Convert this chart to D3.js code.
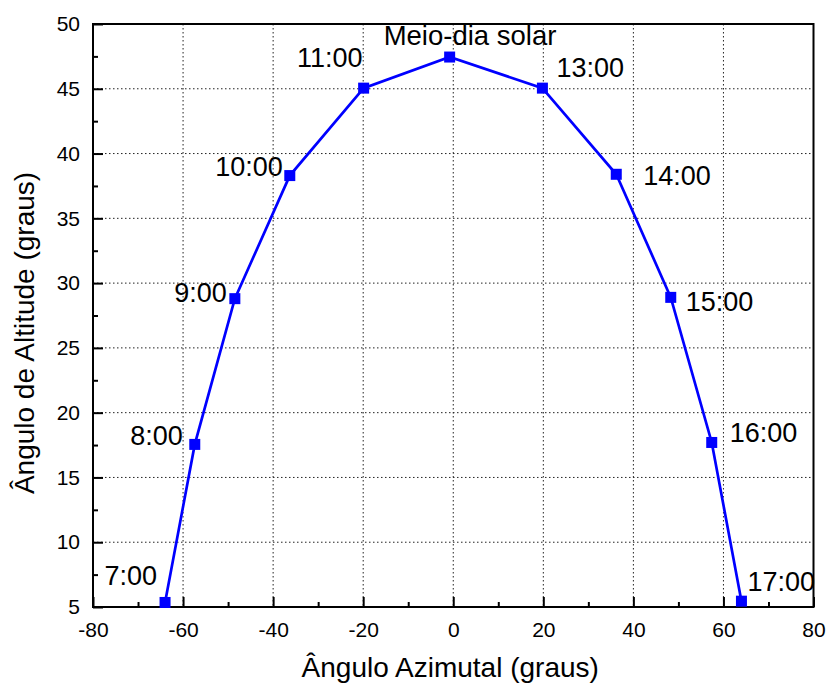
<!DOCTYPE html>
<html>
<head>
<meta charset="utf-8">
<script src="https://cdn.jsdelivr.net/npm/d3@7"></script>
<style>
  body { margin: 0; background: #fff; }
  svg { display: block; font-family: "Liberation Sans", Arial, sans-serif; }
</style>
</head>
<body>
<svg id="chart" width="829" height="685"></svg>
<script>
// data
const hours = ['7:00', '8:00', '9:00', '10:00', '11:00', 'Meio-dia solar', '13:00', '14:00', '15:00', '16:00', '17:00']
const azimuth = [-64.0, -57.4, -48.5, -36.3, -19.9, -0.8, 19.8, 36.2, 48.3, 57.4, 64.0]
const altitude = [5.35, 17.55, 28.8, 38.3, 45.05, 47.45, 45.05, 38.4, 28.9, 17.7, 5.45]

const xTicks = [-80, -60, -40, -20, 0, 20, 40, 60, 80]
const xMinor = [-70, -50, -30, -10, 10, 30, 50, 70]
const yTicks = [5, 10, 15, 20, 25, 30, 35, 40, 45, 50]
const yMinor = [7.5, 12.5, 17.5, 22.5, 27.5, 32.5, 37.5, 42.5, 47.5]

const xTitle = 'Ângulo Azimutal (graus)'
const yTitle = 'Ângulo de Altitude (graus)'

// label placement relative to each marker: [dx, dy, anchor]
const labelPos = [
  [-8, -17, 'end'], [-12, 1, 'end'], [-8, 3, 'end'], [-7, 0, 'end'], [-1, -21, 'end'],
  [-66, -12, 'start'], [14, -11, 'start'], [27, 11, 'start'], [15, 14, 'start'],
  [18, 0, 'start'], [6, -10, 'start']
]

const M = {top: 24, right: 15.5, bottom: 78, left: 93}
const W = 829 - M.left - M.right
const H = 685 - M.top - M.bottom

let svg = d3.select('#chart')
let g = svg.append('g').attr('transform', 'translate(' + M.left + ',' + M.top + ')')

let x = d3.scaleLinear().domain([-80, 80]).range([0, W])
let y = d3.scaleLinear().domain([5, 50]).range([H, 0])

// grid
g.append('g').selectAll('line')
  .data(xTicks.filter(d => d > -80 && d < 80))
  .join('line')
  .attr('x1', d => x(d)).attr('x2', d => x(d))
  .attr('y1', 0).attr('y2', H)
  .attr('stroke', '#222').attr('stroke-width', 1)
  .attr('stroke-dasharray', '1.5,2.5')

g.append('g').selectAll('line')
  .data(yTicks.filter(d => d > 5 && d < 50))
  .join('line')
  .attr('y1', d => y(d)).attr('y2', d => y(d))
  .attr('x1', 0).attr('x2', W)
  .attr('stroke', '#222').attr('stroke-width', 1)
  .attr('stroke-dasharray', '1.5,2.5')

// axes
let xAxis = g.append('g')
  .attr('transform', 'translate(0,' + H + ')')
  .call(d3.axisBottom(x).tickValues(xTicks).tickSize(-10).tickPadding(15).tickFormat(d => String(d)))
let xAxisMinor = g.append('g')
  .attr('transform', 'translate(0,' + H + ')')
  .call(d3.axisBottom(x).tickValues(xMinor).tickSize(-5).tickFormat(''))

let yAxis = g.append('g')
  .call(d3.axisLeft(y).tickValues(yTicks).tickSize(-10).tickPadding(13).tickFormat(d => String(d)))
let yAxisMinor = g.append('g')
  .call(d3.axisLeft(y).tickValues(yMinor).tickSize(-5).tickFormat(''))

;[xAxis, xAxisMinor, yAxis, yAxisMinor].forEach(a => {
  a.select('.domain').remove()
  a.selectAll('.tick line').attr('stroke', '#000').attr('stroke-width', 2)
  a.selectAll('.tick text').attr('fill', '#000').style('font-size', '21px')
    .style('font-family', '"Liberation Sans", Arial, sans-serif')
})

// frame
g.append('rect')
  .attr('width', W).attr('height', H)
  .attr('fill', 'none').attr('stroke', '#000').attr('stroke-width', 2)

// series
let pts = azimuth.map((a, i) => ({x: a, y: altitude[i], label: hours[i], pos: labelPos[i]}))

g.append('path')
  .datum(pts)
  .attr('fill', 'none')
  .attr('stroke', '#0000ff')
  .attr('stroke-width', 2.7)
  .attr('d', d3.line().x(d => x(d.x)).y(d => y(d.y)))

g.selectAll('rect.marker')
  .data(pts)
  .join('rect')
  .attr('class', 'marker')
  .attr('x', d => x(d.x) - 5.5)
  .attr('y', d => y(d.y) - 5.5)
  .attr('width', 11).attr('height', 11)
  .attr('fill', '#0000ff')

g.selectAll('text.lbl')
  .data(pts)
  .join('text')
  .attr('class', 'lbl')
  .attr('x', d => x(d.x) + d.pos[0])
  .attr('y', d => y(d.y) + d.pos[1])
  .attr('text-anchor', d => d.pos[2])
  .style('font-size', d => d.label.length > 5 ? '27.5px' : '27px')
  .text(d => d.label)

// titles
svg.append('text')
  .attr('x', M.left + W / 2 - 3)
  .attr('y', 677)
  .attr('text-anchor', 'middle')
  .style('font-size', '28px')
  .text(xTitle)

svg.append('text')
  .attr('transform', 'translate(34,333) rotate(-90)')
  .attr('text-anchor', 'middle')
  .style('font-size', '28px')
  .text(yTitle)
</script>
</body>
</html>
